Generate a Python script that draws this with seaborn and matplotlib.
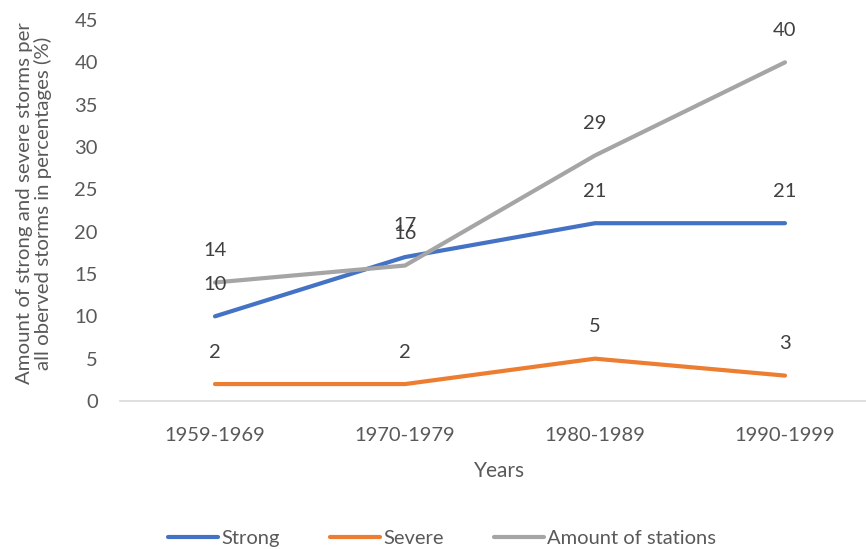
import pandas as pd
import matplotlib.pyplot as plt
import seaborn as sns

# values
periods = ['1959-1969', '1970-1979', '1980-1989', '1990-1999']
strong = [10, 17, 21, 21]
severe = [2, 2, 5, 3]
stations = [14, 16, 29, 40]
series_names = ['Strong', 'Severe', 'Amount of stations']

df = pd.DataFrame({
    'Years': periods * 3,
    'Value': strong + severe + stations,
    'Series': [s for s in series_names for _ in periods],
})

sns.set_style('white')
plt.rcParams['font.family'] = ['Lato', 'DejaVu Sans']

colors = ['#4472C4', '#ED7D31', '#A5A5A5']
text_col = '#595959'

fig = plt.figure(figsize=(8.66, 5.49), dpi=100)
ax = fig.add_axes([120 / 866, 1 - 401 / 549, 760 / 866, 381 / 549])

sns.lineplot(data=df, x='Years', y='Value', hue='Series', palette=colors,
             linewidth=3, sort=False, ax=ax)

# data labels above each point
for name, vals in zip(series_names, [strong, severe, stations]):
    for i, v in enumerate(vals):
        ax.annotate(str(v), (i, v), xytext=(0, 23), textcoords='offset points',
                    ha='center', va='center', fontsize=14.5, color='#404040')

ax.set_xlim(-0.5, 3.5)
ax.set_ylim(0, 45)
ax.set_yticks(range(0, 46, 5))
ax.tick_params(axis='both', length=0, labelsize=14.5, labelcolor=text_col)
ax.tick_params(axis='x', pad=19)
ax.tick_params(axis='y', pad=16)

for side in ['top', 'right', 'left']:
    ax.spines[side].set_visible(False)
ax.spines['bottom'].set_color('#D9D9D9')
ax.spines['bottom'].set_linewidth(1.2)

ax.set_xlabel('Years', fontsize=15, color=text_col, labelpad=12)
ax.set_ylabel('Amount of strong and severe storms per\nall oberved storms in percentages (%)',
              fontsize=14.7, color=text_col, linespacing=1.1)
ax.yaxis.set_label_coords(-0.089, 0.52)

ax.get_legend().remove()
handles, labels = ax.get_legend_handles_labels()
fig.legend(handles, labels, ncol=3, frameon=False, loc='center',
           bbox_to_anchor=(442 / 866, 1 - 538 / 549),
           fontsize=14.5, handlelength=2.5, handletextpad=0.15, columnspacing=2.5,
           labelcolor=text_col)

fig.savefig('out.png', dpi=100)
